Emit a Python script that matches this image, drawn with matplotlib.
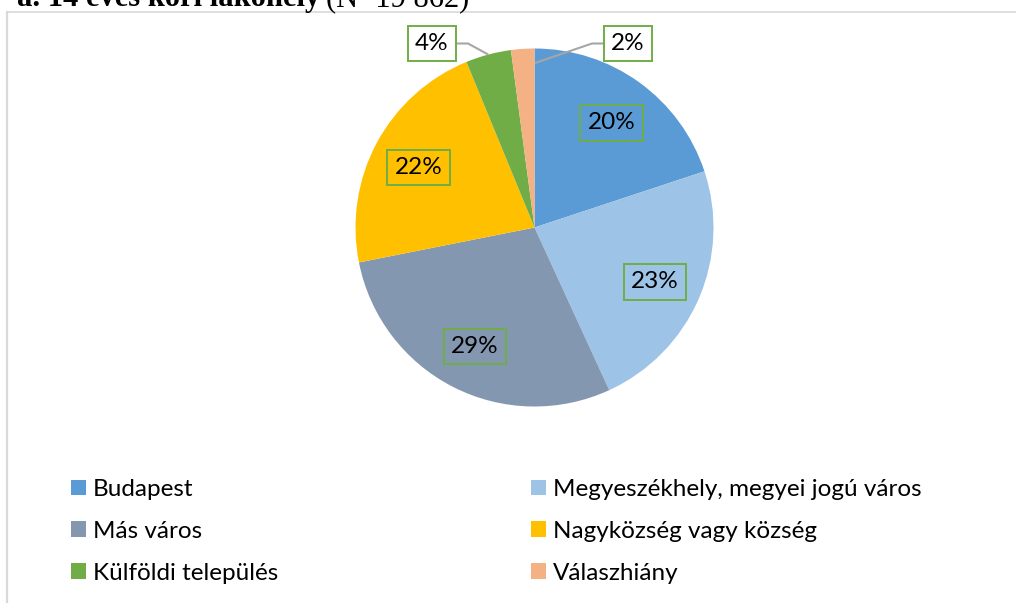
import numpy as np
import matplotlib.pyplot as plt
from matplotlib.lines import Line2D

plt.rcParams['font.family'] = ['Lato', 'DejaVu Sans']
plt.rcParams['font.size'] = 17.5

# data
categories = ["Budapest", "Megyeszékhely, megyei jogú város", "Más város",
              "Nagyközség vagy község", "Külföldi település", "Válaszhiány"]
shares = [19.9, 23.2, 28.7, 21.9, 4.1, 2.1]
colors = ["#5B9BD5", "#9DC3E6", "#8497B0", "#FFC000", "#70AD47", "#F4B183"]

W, H = 1016, 603
fig = plt.figure(figsize=(W / 100, H / 100), dpi=100)
ax = fig.add_axes([0, 0, 1, 1])

# pie in pixel coordinates (y up)
cx, cy, r = 534.5, H - 227.5, 179
wedges, _ = ax.pie(shares, colors=colors, startangle=90, counterclock=False,
                   center=(cx, cy), radius=r, wedgeprops=dict(linewidth=0))
ax.set_xlim(0, W)
ax.set_ylim(0, H)
ax.axis('off')

box = dict(boxstyle='square,pad=0.3', facecolor='none', edgecolor='#70AD47', linewidth=1.4)
box_white = dict(box, facecolor='white')

# outside label spots for the small slices: (box centre, anchor on slice)
outside = {4: ((432, H - 43.5), None), 5: ((628, H - 43.5), (535, H - 63))}

for i, w in enumerate(wedges):
    label = f"{round(shares[i])}%"
    mid = np.deg2rad((w.theta1 + w.theta2) / 2)
    if i not in outside:
        x = cx + 0.735 * r * np.cos(mid)
        y = cy + 0.735 * r * np.sin(mid) - 2
        ax.text(x, y, label, ha='center', va='center', bbox=box, zorder=5)
    else:
        (bx, by), anchor = outside[i]
        if anchor is None:
            anchor = (cx + r * np.cos(mid), cy + r * np.sin(mid))
        elbow = bx + 36 if anchor[0] > bx else bx - 36
        ax.plot([bx, elbow, anchor[0]], [by, by, anchor[1]], color='#A6A6A6',
                lw=1.5, zorder=4, solid_capstyle='butt')
        ax.text(bx, by, label, ha='center', va='center', bbox=box_white, zorder=5)

# legend in two columns, row-wise order
leg_kw = dict(loc='upper left', frameon=False, handlelength=0.62, handleheight=0.62,
              handletextpad=0.29, labelspacing=0.86, borderpad=0, borderaxespad=0)
left = [0, 2, 4]
right = [1, 3, 5]
fig.legend([wedges[i] for i in left], [categories[i] for i in left],
           bbox_to_anchor=(71 / W, 1 - 479 / H), **leg_kw)
fig.legend([wedges[i] for i in right], [categories[i] for i in right],
           bbox_to_anchor=(531 / W, 1 - 479 / H), **leg_kw)

# chart frame (partly cut off)
fig.add_artist(Line2D([7 / W, 1], [1 - 12 / H] * 2, color='#D9D9D9', lw=1.2))
fig.add_artist(Line2D([7 / W] * 2, [0, 1 - 12 / H], color='#D9D9D9', lw=1.6))

# title, cut off at the top
t2 = fig.text(469 / W, 1 - 6 / H, "(N=19 862)", family='Liberation Serif',
              fontsize=22, ha='right', va='baseline')
fig.canvas.draw()
bb = t2.get_window_extent()
fig.text((bb.x0 - 6) / W, 1 - 6 / H, "a. 14 éves kori lakóhely", family='Liberation Serif',
         fontsize=22, fontweight='bold', ha='right', va='baseline')

fig.savefig('out.png', dpi=100)
